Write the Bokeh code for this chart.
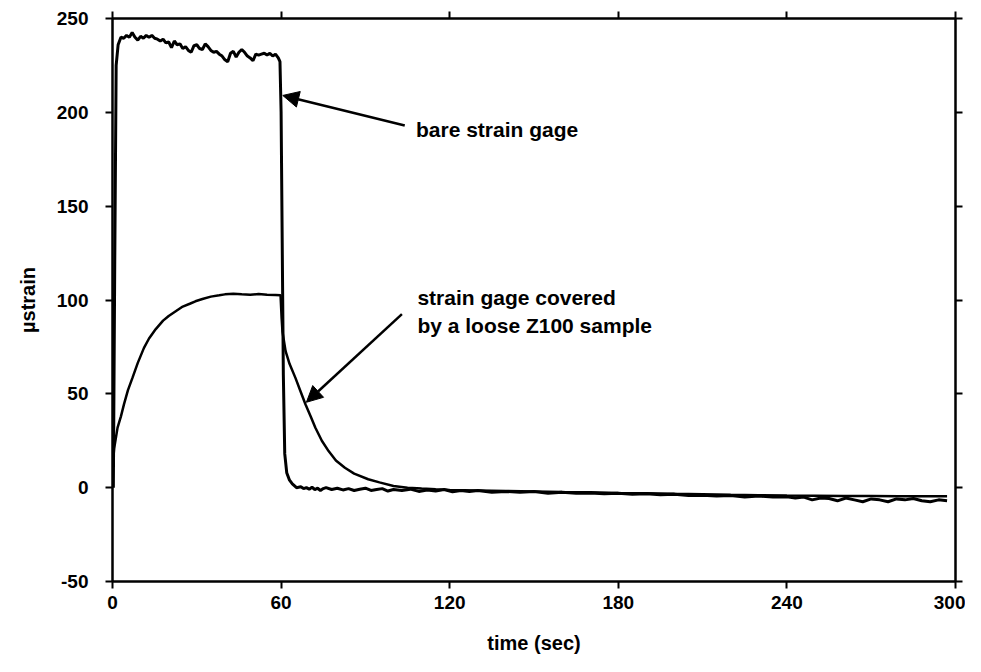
from bokeh.plotting import figure
from bokeh.models import LinearAxis, FixedTicker, Range1d, Label, Arrow, NormalHead, CustomJSTickFormatter
from bokeh.embed import file_html
from bokeh.resources import INLINE

x_ticks = [0, 60, 120, 180, 240, 300]
y_ticks = [-50, 0, 50, 100, 150, 200, 250]

bare_t = [0.3, 0.8, 1.3, 2, 3, 4, 5, 6, 7, 8, 9, 10, 11, 12, 13, 14, 15, 16, 17, 18, 19, 20,
          21, 22, 23, 24, 25, 26, 27, 28, 29, 30, 31, 32, 33, 34, 35, 36, 37, 38, 39, 40,
          41, 42, 43, 44, 45, 46, 47, 48, 49, 50, 51, 52, 53, 54, 55, 56, 57, 58, 59, 59.6,
          60.0, 60.4, 60.8, 61.3, 62, 63, 64, 65.5, 67, 68, 69, 70, 71, 72, 73, 74, 75, 76,
          78, 80, 82, 84, 86, 88, 90, 92, 94, 96, 98, 100, 103, 106, 109, 112, 115, 118, 121,
          124, 127, 130, 135, 140, 145, 150, 155, 160, 165, 170, 175, 180, 185, 190, 195, 200,
          205, 210, 215, 220, 225, 230, 235, 240, 243, 246, 249, 252, 255, 258, 261, 264, 267,
          270, 273, 276, 279, 282, 285, 288, 291, 294, 297]
bare_v = [0, 120, 225, 236, 240, 239.5, 241, 240, 242.5, 240, 238.5, 240.5, 239.5, 241, 240,
          241, 239.5, 239, 238, 239, 237, 237.5, 234.5, 238, 236, 236.5, 234, 235, 233, 232,
          235.5, 236, 234, 233.5, 236.5, 235, 233, 232, 232.5, 231, 230, 228, 227, 231.5,
          232.5, 229.5, 232, 233.5, 232, 230, 229, 227.5, 231, 230.5, 231, 231.5, 230.5, 231.5,
          230, 231, 229, 227, 200, 130, 60, 18, 8, 4, 2, 0, 0.5, -0.5, 0, -0.8, 0.2, -1, -0.3,
          -1.5, -0.5, 0, -1, -0.3, -1.2, -0.5, -1.5, -0.8, -0.3, -1.5, -1, -0.5, -1.8, -1,
          -1.5, -0.8, -2, -1.2, -1.8, -1, -2.2, -1.5, -2, -1.5, -2.5, -2, -2.5, -2, -3, -2.5,
          -3, -2.8, -3.2, -3, -3.5, -3.2, -3.8, -3.5, -4.2, -4, -4.5, -4.2, -5, -4.5, -5, -4.8,
          -5.5, -5, -6.5, -5.5, -5.8, -7, -5.5, -6.5, -7.5, -6, -6.5, -7.5, -6, -6.5, -5.8, -7,
          -7.5, -6.5, -7]

cov_t = [0.2, 0.6, 1.8, 3, 4.1, 5.5, 7.1, 9, 11.2, 13, 15.4, 18, 20, 22.5, 25, 27.5, 29.5, 32,
         35, 38, 40, 43, 46, 49, 52, 55, 58, 59.8, 60.2, 60.5, 61.6, 63, 65.1, 67, 68.7, 70.5,
         72.2, 74.5, 76.9, 79.5, 82.7, 86, 91, 95, 100, 105, 110, 115, 120, 130, 140, 150, 160,
         170, 180, 190, 200, 210, 220, 230, 240, 250, 260, 270, 280, 290, 297]
cov_v = [14, 21, 32, 38, 44.5, 52, 58.5, 66.5, 74.5, 79.5, 84.5, 89, 91.5, 94, 96.5, 98, 99.3,
         100.5, 101.8, 102.5, 103, 103.3, 103, 102.8, 103.2, 102.8, 102.7, 102.5, 90, 83, 72.7,
         66, 58.5, 51, 44.3, 38, 31.9, 25, 19.5, 14.5, 10.6, 7.5, 4.5, 2.8, 0.9, 0, -0.5, -0.9,
         -1.2, -1.5, -1.8, -2, -2.3, -2.5, -2.8, -3, -3.3, -3.5, -3.8, -4, -4.2, -4.3, -4.5,
         -4.5, -4.6, -4.6, -4.6]

FONT = "Liberation Sans"

p = figure(width=965, height=656, output_backend="svg", toolbar_location=None,
           x_range=Range1d(0, 300), y_range=Range1d(-50, 250),
           min_border_left=112, min_border_top=18, min_border_right=10, min_border_bottom=74,
           background_fill_color="white", border_fill_color="white")
p.xgrid.visible = False
p.ygrid.visible = False
p.outline_line_color = "black"
p.outline_line_width = 2

plain = CustomJSTickFormatter(code="return tick.toString()")

def style(ax, ticks):
    ax.ticker = FixedTicker(ticks=ticks)
    ax.axis_line_width = 2
    ax.axis_line_color = "black"
    ax.major_tick_line_width = 2
    ax.major_tick_line_color = "black"
    ax.major_tick_out = 7
    ax.major_tick_in = 0
    ax.minor_tick_line_color = None
    ax.major_label_text_font = FONT
    ax.major_label_text_font_style = "bold"
    ax.major_label_text_font_size = "19px"
    ax.major_label_text_color = "black"
    ax.axis_label_text_font = FONT
    ax.axis_label_text_font_style = "bold"
    ax.axis_label_text_font_size = "20px"
    ax.axis_label_text_color = "black"

style(p.xaxis[0], x_ticks)
style(p.yaxis[0], y_ticks)
p.xaxis[0].formatter = plain
p.yaxis[0].formatter = plain
p.xaxis[0].axis_label = "time (sec)"
p.yaxis[0].axis_label = "µstrain"
p.xaxis[0].major_label_standoff = 7
p.yaxis[0].major_label_standoff = 17
p.xaxis[0].axis_label_standoff = 20
p.yaxis[0].axis_label_standoff = 15

blank = CustomJSTickFormatter(code="return ''")
top = LinearAxis(formatter=blank)
style(top, x_ticks)
top.major_label_standoff = 0
right = LinearAxis(formatter=blank)
style(right, y_ticks)
right.major_label_standoff = 0
p.add_layout(top, "above")
p.add_layout(right, "right")

p.line(bare_t, bare_v, line_color="black", line_width=3)
p.line(cov_t, cov_v, line_color="black", line_width=2.5)

p.add_layout(Arrow(end=NormalHead(size=16, fill_color="black", line_color="black", line_width=1),
                   x_start=104, y_start=193, x_end=60.6, y_end=209,
                   line_color="black", line_width=2.5))
p.add_layout(Arrow(end=NormalHead(size=16, fill_color="black", line_color="black", line_width=1),
                   x_start=103, y_start=92.5, x_end=69, y_end=45.5,
                   line_color="black", line_width=2.5))

def lab(x, y, t):
    p.add_layout(Label(x=x, y=y, text=t, text_font=FONT, text_font_style="bold",
                       text_font_size="21px", text_baseline="middle", text_color="black"))

lab(108, 191, "bare strain gage")
lab(108.5, 101.5, "strain gage covered")
lab(108.5, 86.5, "by a loose Z100 sample")

open("out.html", "w").write(file_html(p, INLINE))
